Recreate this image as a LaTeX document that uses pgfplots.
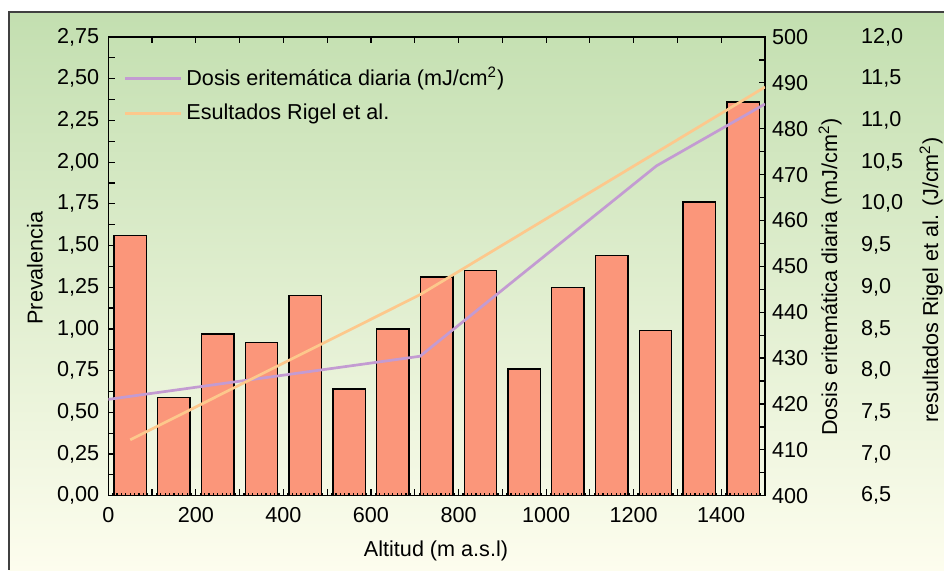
\documentclass[border=0pt]{standalone}
\usepackage{fontspec}
\setmainfont{Liberation Sans}
\usepackage{pgfplots}
\pgfplotsset{compat=1.18}

\newlength\px
\setlength\px{0.5pt}

\definecolor{barfill}{RGB}{251,150,122}
\definecolor{dosis}{RGB}{195,155,210}
\definecolor{rigel}{RGB}{253,200,140}
\definecolor{bgtop}{RGB}{195,223,176}
\definecolor{bgbot}{RGB}{253,253,238}
\definecolor{frame}{RGB}{64,64,64}

\newcommand\chartfont{\fontsize{10.8}{12}\selectfont}

\pgfplotsset{
  base/.style={
    scale only axis,
    width=656.7\px, height=458.7\px,
    at={(108.3\px,74.3\px)}, anchor=south west,
    xmin=0, xmax=1500,
    /pgf/number format/assume math mode=true,
    /pgf/number format/set thousands separator={},
    tick style={black, line width=0.6pt},
    axis line style={line width=0.65pt},
    tick align=inside,
    major tick length=3.2pt,
    minor tick length=1.3pt,
    ticklabel style={font=\chartfont},
  }
}

\begin{document}
\begin{tikzpicture}
\path[use as bounding box, fill=white] (0,0) rectangle (944\px,570\px);
\shade[top color=bgtop, bottom color=bgbot] (9\px,0) rectangle (944\px,558\px);
\draw[frame, line width=1.1pt] (9\px,0) -- (9\px,558\px) -- (944\px,558\px);

% prevalencia (barras)
\begin{axis}[base,
  axis on top,
  ymin=0, ymax=2.75,
  ytick={0,0.25,...,2.75},
  extra y ticks={0.125,0.375,...,2.625}, extra y tick labels={},
  xtick={0,200,...,1400},
  extra x ticks={100,300,...,1500}, extra x tick labels={},
  minor xtick={0,10,...,1500},
  xtick pos=bottom, ytick pos=left,
  yticklabel style={xshift=-2\px, /pgf/number format/.cd, fixed, fixed zerofill, precision=2, use comma},
  xticklabel style={yshift=-2.5pt},
]
\addplot[ybar, bar width=74, bar shift=0pt, fill=barfill, draw=black, line width=0.7pt]
  coordinates {(50,1.56) (150,0.59) (250,0.97) (350,0.92) (450,1.20) (550,0.64)
               (650,1.00) (750,1.31) (850,1.35) (950,0.76) (1050,1.25) (1150,1.44)
               (1250,0.99) (1350,1.76) (1450,2.36)};
\end{axis}

% dosis eritematica
\begin{axis}[base,
  axis x line=none, axis y line*=right,
  ymin=400, ymax=500,
  ytick={400,410,...,500}, minor y tick num=1,
  minor tick length=3.2pt,
]
\addplot[dosis, line width=1.35pt]
  coordinates {(0,421) (712,430.4) (1252,471.9) (1500,485.4)};
\end{axis}

% resultados Rigel et al.
\begin{axis}[base,
  axis x line*=top, axis y line*=right,
  y axis line style={draw=none}, ytick style={draw=none},
  xtick={100,200,...,1400}, xticklabels={},
  ymin=6.5, ymax=12,
  ytick={6.5,7,...,12},
  yticklabel style={xshift=89\px, /pgf/number format/.cd, fixed, fixed zerofill, precision=1, use comma},
  legend style={draw=none, fill=none, at={(0,1)}, anchor=north west,
    xshift=9\px, yshift=-22\px, row sep=7\px, font=\chartfont},
  legend cell align=left,
  legend image code/.code={\draw[#1] (0pt,0pt) -- (28pt,0pt);},
]
\addlegendimage{dosis, line width=1.35pt}
\addlegendentry{Dosis eritemática diaria (mJ/cm\textsuperscript{2})}
\addplot[rigel, line width=1.35pt]
  coordinates {(50,7.17) (712,8.91) (1500,11.40)};
\addlegendentry{Esultados Rigel et al.}
\end{axis}

\node[rotate=90, font=\chartfont] at (35\px,302\px) {Prevalencia};
\node[font=\chartfont] at (436\px,19\px) {Altitud (m a.s.l)};
\node[rotate=90, font=\chartfont] at (830\px,293\px) {Dosis eritemática diaria (mJ/cm\textsuperscript{2})};
\node[rotate=90, font=\chartfont] at (931\px,290\px) {resultados Rigel et al. (J/cm\textsuperscript{2})};
\end{tikzpicture}
\end{document}
